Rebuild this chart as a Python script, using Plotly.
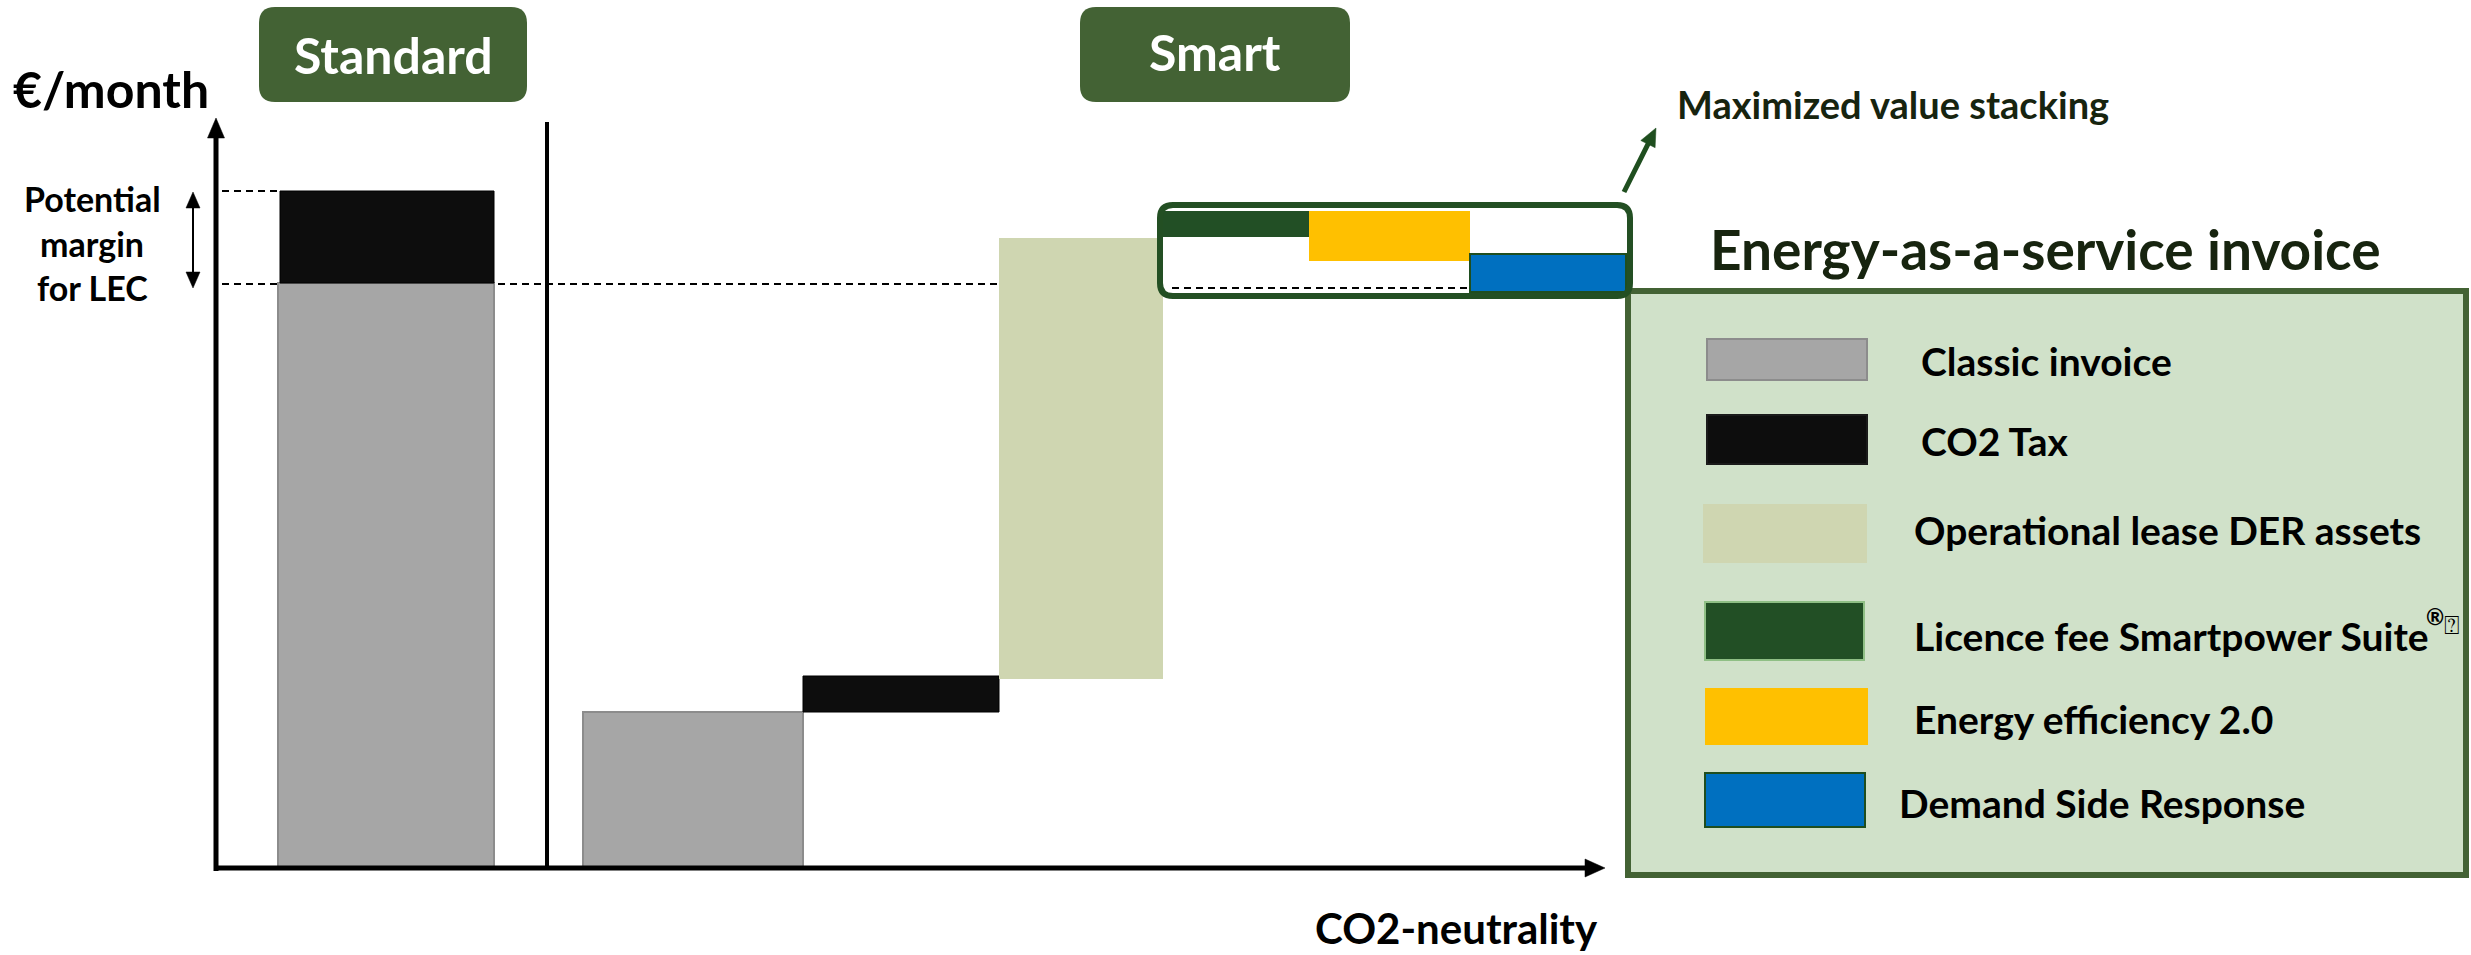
import math
import plotly.graph_objects as go

# ---------------- data (€/month) ----------------
categories = [
    "Classic invoice (Standard)", "CO2 Tax (Standard)",
    "Classic invoice", "CO2 Tax", "Operational lease DER assets",
    "Licence fee Smartpower Suite", "Energy efficiency 2.0", "Demand Side Response",
]
bar_start = [0.0, 58.5, 0.0, 15.6, 18.9, 63.1, 65.7, 61.4]
bar_end = [58.5, 67.7, 15.6, 19.2, 63.0, 65.7, 60.7, 57.6]

legend_labels = [
    "Classic invoice", "CO2 Tax", "Operational lease DER assets",
    "Licence fee Smartpower Suite", "Energy efficiency 2.0", "Demand Side Response",
]
licence_marks = ["®", "⍰"]
reference_level = 58.4      # classic invoice level (dashed line)

# ---------------- layout / style ----------------
W, H = 2471, 955
Y0_PX = 868            # pixel row of the zero line
PX_PER_UNIT = 10.0

bar_center = [386, 387, 693, 901, 1081, 1235, 1389.5, 1548]
bar_width = [216, 214, 220, 196, 164, 148, 161, 156]

GREY, BLACK, BEIGE = "#a6a6a6", "#0d0d0d", "#cfd6b1"
DKGREEN, YELLOW, BLUE = "#224f25", "#ffc000", "#0070c0"
bar_colors = [GREY, BLACK, GREY, BLACK, BEIGE, DKGREEN, YELLOW, BLUE]
bar_line_colors = ["#8c8c8c", "#000000", "#8c8c8c", "#000000", BEIGE, DKGREEN, YELLOW, "#1f4e1f"]
bar_line_widths = [2, 1, 2, 1, 0, 0, 0, 2]

FONT = "Lato, 'Open Sans', sans-serif"
DARK = "#17240f"
BOXGREEN = "#436234"


def X(px):
    return px


def Y(py):
    return (Y0_PX - py) / PX_PER_UNIT


fig = go.Figure()
fig.add_trace(go.Bar(
    x=bar_center,
    width=bar_width,
    base=bar_start,
    y=[e - s for s, e in zip(bar_start, bar_end)],
    marker=dict(color=bar_colors, line=dict(color=bar_line_colors, width=bar_line_widths)),
    hovertext=categories,
    showlegend=False,
))

shapes = []
annotations = []


def line(x0, y0, x1, y1, color="black", width=2, dash=None, layer="above"):
    shapes.append(dict(type="line", xref="x", yref="y", x0=X(x0), y0=Y(y0), x1=X(x1), y1=Y(y1),
                       line=dict(color=color, width=width, dash=dash), layer=layer))


def poly(points, color):
    d = "M " + " L ".join(f"{X(px)},{Y(py)}" for px, py in points) + " Z"
    shapes.append(dict(type="path", xref="x", yref="y", path=d, fillcolor=color,
                       line=dict(color=color, width=0.5), layer="above"))


def arrow(x0, y0, x1, y1, color="black", width=5, head_len=20, head_half=8.5):
    dx, dy = x1 - x0, y1 - y0
    L = math.hypot(dx, dy)
    ux, uy = dx / L, dy / L
    bx, by = x1 - head_len * ux, y1 - head_len * uy
    px_, py_ = -uy, ux
    line(x0, y0, bx + ux * 2, by + uy * 2, color=color, width=width)
    poly([(x1, y1), (bx + head_half * px_, by + head_half * py_), (bx - head_half * px_, by - head_half * py_)], color)


def rrect(x0, y0, x1, y1, r, fill=None, lcolor=None, lwidth=0, layer="above"):
    pts = (f"M {X(x0 + r)},{Y(y0)} L {X(x1 - r)},{Y(y0)} Q {X(x1)},{Y(y0)} {X(x1)},{Y(y0 + r)} "
           f"L {X(x1)},{Y(y1 - r)} Q {X(x1)},{Y(y1)} {X(x1 - r)},{Y(y1)} "
           f"L {X(x0 + r)},{Y(y1)} Q {X(x0)},{Y(y1)} {X(x0)},{Y(y1 - r)} "
           f"L {X(x0)},{Y(y0 + r)} Q {X(x0)},{Y(y0)} {X(x0 + r)},{Y(y0)} Z")
    shapes.append(dict(type="path", xref="x", yref="y", path=pts,
                       fillcolor=fill if fill else "rgba(0,0,0,0)",
                       line=dict(color=lcolor if lcolor else "rgba(0,0,0,0)", width=lwidth), layer=layer))


def text(px, py, s, size, color="black", xanchor="left", bold=True):
    annotations.append(dict(x=X(px), y=Y(py), xref="x", yref="y",
                            text=f"<b>{s}</b>" if bold else s,
                            showarrow=False, xanchor=xanchor, yanchor="middle",
                            font=dict(family=FONT, size=size, color=color)))


# dashed reference lines
line(222, 191, 280, 191, width=2, dash="7px,5px", layer="below")
ref_py = Y0_PX - reference_level * PX_PER_UNIT
line(222, ref_py, 999, ref_py, width=2, dash="7px,5px", layer="below")
line(1172, 288, 1469, 288, width=2, dash="7px,5px", layer="above")

# axes with arrows
arrow(216, 871, 216, 118, width=5, head_len=20, head_half=8.5)
arrow(214, 868, 1605, 868, width=5, head_len=20, head_half=9)
# separator
line(547, 122, 547, 867, width=4)
# double arrow "potential margin"
line(193, 200, 193, 280, width=2)
poly([(193, 192), (186, 208), (200, 208)], "black")
poly([(193, 288), (186, 272), (200, 272)], "black")

# header boxes
rrect(259, 7, 527, 102, 16, fill=BOXGREEN)
rrect(1080, 7, 1350, 102, 16, fill=BOXGREEN)

# value stacking box + arrow
rrect(1160, 205, 1630, 296, 13, lcolor="#234f23", lwidth=6)
arrow(1624, 192, 1656, 128, color="#1f4e1f", width=5, head_len=18, head_half=8)

# legend box
shapes.append(dict(type="rect", xref="x", yref="y", x0=X(1628), x1=X(2466), y0=Y(291), y1=Y(875),
                   fillcolor="#d0e1c9", line=dict(color=BOXGREEN, width=6), layer="below"))

sw_boxes = [(1707, 339, 1867, 380), (1707, 415, 1867, 464), (1704, 505, 1866, 562),
            (1705, 602, 1864, 660), (1706, 689, 1867, 744), (1705, 773, 1865, 827)]
sw_fill = [GREY, BLACK, BEIGE, DKGREEN, YELLOW, BLUE]
sw_line = ["#8c8c8c", "#1a1a1a", BEIGE, "#8fbf85", YELLOW, "#1f4e1f"]
for (x0, y0, x1, y1), f, lc in zip(sw_boxes, sw_fill, sw_line):
    shapes.append(dict(type="rect", xref="x", yref="y", x0=X(x0), x1=X(x1), y0=Y(y0), y1=Y(y1),
                       fillcolor=f, line=dict(color=lc, width=2), layer="above"))

label_pos = [(1919, 361), (1919, 441), (1912, 530), (1912, 636), (1912, 719), (1897, 803)]
for (px, py), s in zip(label_pos, legend_labels):
    text(px, py, s, 39)
# superscript marks after "Suite"
text(2424, 616, licence_marks[0], 22)
text(2442, 624, licence_marks[1], 26, bold=False)

# texts
text(11, 89, "€/month", 50)
text(393, 55, "Standard", 50, color="white", xanchor="center")
text(1215, 52, "Smart", 50, color="white", xanchor="center")
text(92, 198, "Potential", 34, xanchor="center")
text(92, 243, "margin", 34, xanchor="center")
text(92, 287, "for LEC", 34, xanchor="center")
text(1675, 104, "Maximized value stacking", 38, color=DARK)
text(1708, 249, "Energy-as-a-service invoice", 55, color=DARK)
text(1313, 928, "CO2-neutrality", 42)

fig.update_layout(
    width=W, height=H,
    margin=dict(l=0, r=0, t=0, b=0),
    paper_bgcolor="white", plot_bgcolor="white",
    xaxis=dict(range=[0, W], visible=False, fixedrange=True),
    yaxis=dict(range=[Y(H), Y(0)], visible=False, fixedrange=True),
    shapes=shapes, annotations=annotations,
    showlegend=False,
)

fig.write_html("out.html")
